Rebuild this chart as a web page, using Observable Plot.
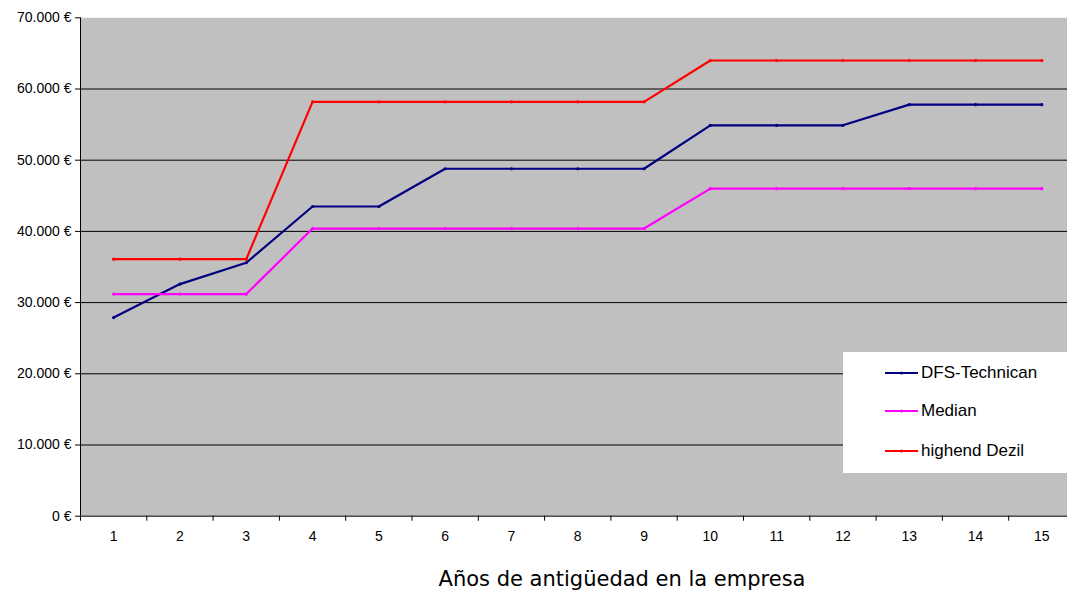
<!DOCTYPE html>
<html><head><meta charset="utf-8">
<script src="https://cdn.jsdelivr.net/npm/d3@7"></script>
<script src="https://cdn.jsdelivr.net/npm/@observablehq/plot@0.6"></script>
<style>
html,body{margin:0;padding:0;background:#fff;overflow:hidden;width:1067px;height:594px;}
#wrap{position:relative;width:1067px;height:594px;overflow:hidden;}
#chart{position:absolute;left:0;top:0;width:1080px;height:545px;}
#chart svg{max-width:none !important;width:1080px !important;height:545px !important;}
#legend{position:absolute;left:843px;top:352px;width:240px;height:121px;background:#fff;font-family:"Liberation Sans",Arial,sans-serif;font-size:17px;color:#000;}
.item{position:absolute;left:42px;display:flex;align-items:center;white-space:nowrap;}
.item svg{margin-right:2px;}
#xtitle{position:absolute;left:622px;top:567px;transform:translateX(-50%);white-space:nowrap;font-family:"DejaVu Sans",sans-serif;font-size:21px;color:#000;}
</style></head>
<body><div id="wrap"><div id="chart"></div><div id="legend"></div><div id="xtitle">Años de antigüedad en la empresa</div></div>
<script>
const years = [1,2,3,4,5,6,7,8,9,10,11,12,13,14,15];
const dfsTechnican = [27900,32600,35600,43500,43500,48800,48800,48800,48800,54900,54900,54900,57800,57800,57800];
const median = [31200,31200,31200,40400,40400,40400,40400,40400,40400,46000,46000,46000,46000,46000,46000];
const highendDezil = [36100,36100,36100,58200,58200,58200,58200,58200,58200,64000,64000,64000,64000,64000,64000];
const yTicks = [0,10000,20000,30000,40000,50000,60000,70000];
const seriesNames = ["DFS-Technican","Median","highend Dezil"];
const seriesColors = ["#000080","#ff00ff","#ff0000"];

const seriesValues = [dfsTechnican, median, highendDezil];
const data = [];
seriesNames.forEach((s,i)=>years.forEach((yr,j)=>data.push({series:s, year:yr, value:seriesValues[i][j]})));
const bandEdges = d3.range(0.5, 16, 1);
const fmt = d => d3.format(",")(d).replace(/,/g, ".") + " €";

const chart = Plot.plot({
  width: 1080, height: 545,
  marginLeft: 80, marginRight: 5.5, marginTop: 17.3, marginBottom: 29.3,
  style: {fontFamily: "Liberation Sans, Arial, sans-serif", fontSize: "14px", color: "#000", background: "transparent"},
  x: {type: "linear", domain: [0.5, 15.5]},
  y: {domain: [0, 70000]},
  color: {domain: seriesNames, range: seriesColors},
  marks: [
    Plot.frame({fill: "#c0c0c0", stroke: null}),
    Plot.ruleY(yTicks.filter(d => d > 0 && d < 70000), {stroke: "#000", strokeWidth: 1}),
    Plot.lineY(data, {x: "year", y: "value", z: "series", stroke: "series", strokeWidth: 2.2}),
    Plot.dot(data, {x: "year", y: "value", fill: "series", r: 1.6}),
    Plot.ruleX([0.5], {stroke: "#000", strokeWidth: 1}),
    Plot.ruleY([0], {stroke: "#000", strokeWidth: 1}),
    Plot.axisY({ticks: yTicks, tickFormat: fmt, tickSize: 5, tickPadding: 4, label: null}),
    Plot.axisX({ticks: years, tickSize: 0, tickPadding: 15, label: null}),
    Plot.axisX({ticks: bandEdges, tickSize: 5, tickFormat: () => "", label: null})
  ]
});
document.getElementById("chart").appendChild(chart);

const legend = document.getElementById("legend");
const legendTops = [11, 49, 89];
seriesNames.forEach((s,i)=>{
  const it = document.createElement("div");
  it.className = "item";
  it.style.top = legendTops[i] + "px";
  it.innerHTML = `<svg width="34" height="20"><line x1="0" y1="10" x2="33" y2="10" stroke="${seriesColors[i]}" stroke-width="2"/><circle cx="16.5" cy="10" r="1.5" fill="${seriesColors[i]}"/></svg><span>${s}</span>`;
  legend.appendChild(it);
});
</script>
</body></html>
